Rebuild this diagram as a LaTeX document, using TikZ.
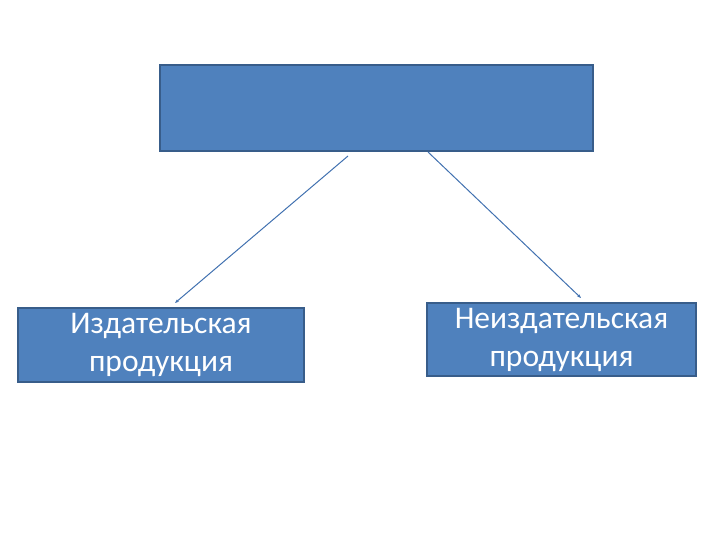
\documentclass[tikz,border=0pt]{standalone}
\usepackage{fontspec}
\setmainfont{Carlito}
\usetikzlibrary{arrows.meta}
\definecolor{boxfill}{HTML}{4F81BD}
\definecolor{boxline}{HTML}{385D8A}
\definecolor{arrowline}{HTML}{4171B0}
\begin{document}
\begin{tikzpicture}[x=1pt,y=-1pt,
  blockbox/.style={draw=boxline, fill=boxfill, line width=1.5pt, inner sep=0pt,
    text=white, align=center, font=\fontsize{31.5}{38}\selectfont},
  link/.style={draw=arrowline, line width=1pt, -{Stealth[length=4pt,width=3pt]}}]
\useasboundingbox (0,0) rectangle (720,540);
\node[blockbox, minimum width=433pt, minimum height=86pt] (top) at (376.5,108) {};
\node[blockbox, minimum width=286pt, minimum height=74pt] (left) at (161,345) {Издательская\\продукция};
\node[blockbox, minimum width=269pt, minimum height=73pt] (right) at (561.5,339.5) {Неиздательская\\продукция};
\coordinate (ls) at (348,156);
\coordinate (le) at (175,303);
\coordinate (rs) at (428,152);
\coordinate (re) at (581,298);
\path[link] (ls) -- (le);
\path[link] (rs) -- (re);
\end{tikzpicture}
\end{document}
